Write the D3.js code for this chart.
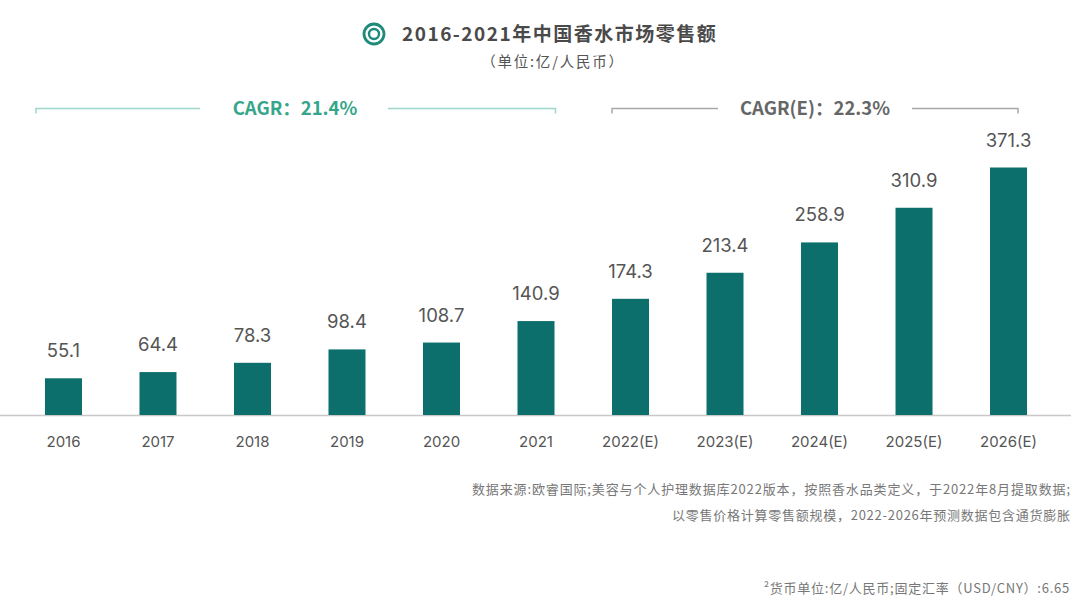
<!DOCTYPE html>
<html><head><meta charset="utf-8">
<script src="https://cdn.jsdelivr.net/npm/d3@7/dist/d3.min.js"></script>
<style>body{margin:0;background:#fff;}svg{display:block;font-family:"Noto Sans CJK SC","Noto Sans",sans-serif;}</style>
</head><body><svg id="c" width="1080" height="608"></svg>
<script>
const categories = ["2016","2017","2018","2019","2020","2021","2022(E)","2023(E)","2024(E)","2025(E)","2026(E)"];
const values = [55.1,64.4,78.3,98.4,108.7,140.9,174.3,213.4,258.9,310.9,371.3];
const valueLabels = ["55.1","64.4","78.3","98.4","108.7","140.9","174.3","213.4","258.9","310.9","371.3"];
const cagrLabels = ["CAGR：21.4%","CAGR(E)：22.3%"];
const title = "2016-2021年中国香水市场零售额";
const subtitle = "（单位:亿/人民币）";
const notes = ["数据来源:欧睿国际;美容与个人护理数据库2022版本，按照香水品类定义，于2022年8月提取数据;","以零售价格计算零售额规模，2022-2026年预测数据包含通货膨胀"];
const note2 = "²货币单位:亿/人民币;固定汇率（USD/CNY）:6.65";

const svg = d3.select("#c");
const x = d3.scaleBand().domain(categories).range([16.25, 1055.75]).paddingInner(0.6085).paddingOuter(0.304);
const y = d3.scaleLinear().domain([0, 371.3]).range([415, 167.5]);

// title
svg.append("circle").attr("cx",374).attr("cy",34).attr("r",10).attr("fill","none").attr("stroke","#1d8a7a").attr("stroke-width",2.8);
svg.append("circle").attr("cx",374).attr("cy",34).attr("r",5).attr("fill","none").attr("stroke","#1d8a7a").attr("stroke-width",2.4);
svg.append("text").attr("x",402).attr("y",41).attr("font-size",19).attr("letter-spacing",1.5).attr("font-weight",700).attr("fill","#4a4a4a").text(title);
svg.append("text").attr("x",553).attr("y",67).attr("text-anchor","middle").attr("font-size",14.5).attr("letter-spacing",1.8).attr("fill","#555").text(subtitle);

// baseline
svg.append("line").attr("x1",0).attr("x2",1071).attr("y1",415.5).attr("y2",415.5).attr("stroke","#c8c8c8").attr("stroke-width",1.5);

// bars
svg.selectAll("rect.bar").data(values).enter().append("rect").attr("class","bar")
  .attr("x",(d,i)=>x(categories[i])).attr("width",x.bandwidth())
  .attr("y",d=>y(d)).attr("height",d=>y(0)-y(d)).attr("fill","#0d6f6b");

svg.selectAll("text.val").data(values).enter().append("text").attr("class","val")
  .attr("x",(d,i)=>x(categories[i])+x.bandwidth()/2).attr("y",d=>y(d)-21)
  .attr("text-anchor","middle").attr("font-size",18.5).attr("fill","#555")
  .attr("font-family","Inter, 'Noto Sans', sans-serif")
  .text((d,i)=>valueLabels[i]);

// axis
const ax = svg.append("g").attr("transform","translate(0,415)").call(d3.axisBottom(x).tickSize(0).tickPadding(21));
ax.select(".domain").remove();
ax.selectAll("text").attr("font-size",15).attr("fill","#555").attr("font-family","Inter, 'Noto Sans', sans-serif");

// CAGR brackets
function bracket(i0,i1,label,lineColor,textColor,tx,gapL,gapR,offL,offR){
  const x0 = x(categories[i0])+offL, x1 = x(categories[i1])+x.bandwidth()+offR;
  const yy = 108.5;
  const g = svg.append("g");
  g.append("path").attr("d",`M${x0},${yy+5}V${yy}H${gapL}`).attr("fill","none").attr("stroke",lineColor).attr("stroke-width",1.5);
  g.append("path").attr("d",`M${gapR},${yy}H${x1}V${yy+5}`).attr("fill","none").attr("stroke",lineColor).attr("stroke-width",1.5);
  g.append("text").attr("x",tx).attr("y",yy+6.5).attr("text-anchor","middle").attr("font-size",18.5).attr("font-weight",600).attr("fill",textColor).text(label);
}
bracket(0,5,cagrLabels[0],"#9dd6cb","#35a68a",295,200,388,-9,1);
bracket(6,10,cagrLabels[1],"#a8a8a8","#666",815,718,912,0,-9);

// notes
const noteWidths = [598, 398];
svg.selectAll("text.note").data(notes).enter().append("text").attr("class","note")
  .attr("x",(d,i)=>1070-noteWidths[i]).attr("y",(d,i)=>494+i*26).attr("font-size",13)
  .attr("textLength",(d,i)=>noteWidths[i]).attr("lengthAdjust","spacing").attr("fill","#777").text(d=>d);
svg.append("text").attr("x",1070).attr("y",593).attr("text-anchor","end").attr("font-size",13).attr("letter-spacing",0.75).attr("fill","#777").text(note2);
</script></body></html>
